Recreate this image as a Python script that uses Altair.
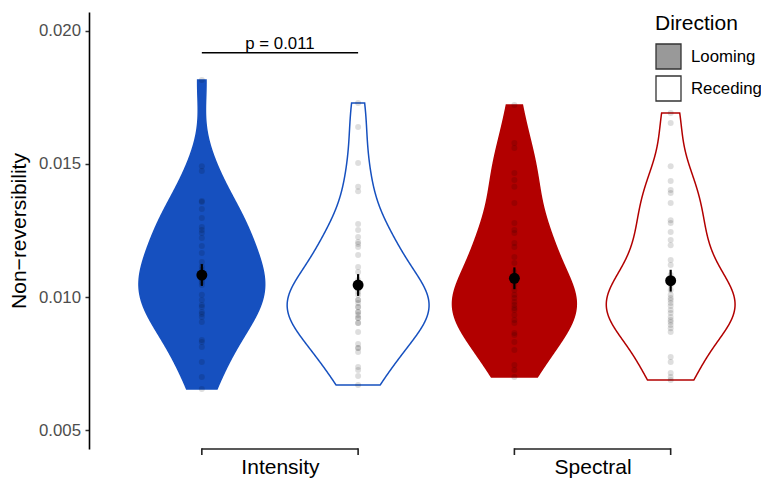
import json
import altair as alt
import pandas as pd

# ---- data ----
types = ["Intensity", "Spectral"]
directions = ["Looming", "Receding"]

intensity_looming = [0.01816, 0.01492, 0.01474, 0.01361, 0.01357, 0.01331, 0.01297, 0.01263,
                     0.01252, 0.01241, 0.01222, 0.01192, 0.01165, 0.01132, 0.01115, 0.01102,
                     0.01083, 0.01075, 0.01064, 0.01055, 0.01045, 0.01008, 0.00989, 0.00970,
                     0.00962, 0.00944, 0.00936, 0.00925, 0.00906, 0.00838, 0.00831, 0.00812,
                     0.00756, 0.00699, 0.00654]
intensity_receding = [0.01729, 0.01639, 0.01504, 0.01414, 0.01398, 0.01274, 0.01252, 0.01226,
                      0.01207, 0.01199, 0.01188, 0.01158, 0.01113, 0.01094, 0.01064, 0.01053,
                      0.01040, 0.01030, 0.01020, 0.01008, 0.00989, 0.00989, 0.00977, 0.00962,
                      0.00962, 0.00944, 0.00944, 0.00932, 0.00921, 0.00921, 0.00902, 0.00902,
                      0.00868, 0.00823, 0.00808, 0.00808, 0.00793, 0.00737, 0.00726, 0.00703,
                      0.00669]
spectral_looming = [0.01722, 0.01579, 0.01560, 0.01466, 0.01440, 0.01414, 0.01353, 0.01278,
                    0.01252, 0.01241, 0.01203, 0.01188, 0.01150, 0.01128, 0.01094, 0.01064,
                    0.01045, 0.01026, 0.01008, 0.00996, 0.00981, 0.00970, 0.00959, 0.00951,
                    0.00932, 0.00914, 0.00902, 0.00865, 0.00857, 0.00831, 0.00801, 0.00744,
                    0.00726, 0.00699]
spectral_receding = [0.01692, 0.01654, 0.01492, 0.01436, 0.01402, 0.01391, 0.01353, 0.01289,
                     0.01278, 0.01244, 0.01214, 0.01195, 0.01139, 0.01120, 0.01083, 0.01064,
                     0.01045, 0.01026, 0.01008, 0.00996, 0.00989, 0.00977, 0.00966, 0.00951,
                     0.00940, 0.00925, 0.00914, 0.00906, 0.00895, 0.00883, 0.00868, 0.00774,
                     0.00756, 0.00714, 0.00699, 0.00688]

# group means and standard errors as drawn (Intensity L, Intensity R, Spectral L, Spectral R)
mean_values = [0.010827, 0.010451, 0.010703, 0.010613]
se_values = [0.00041, 0.00041, 0.00041, 0.00041]

y_ticks = [0.005, 0.010, 0.015, 0.020]
y_domain = [0.004286, 0.020714]
x_domain = [0.389, 2.539]

p_type = "Intensity"
p_label = "p = 0.011"
p_y = 0.01918

y_title = "Non\u2212reversibility"
legend_title = "Direction"

# ---- styles ----
BLUE = "#1650BF"
RED = "#B20000"
fill_colors = [BLUE, "#FFFFFF", RED, "#FFFFFF"]
stroke_colors = [BLUE, BLUE, RED, RED]
legend_fill = ["#999999", "#FFFFFF"]
FONT = "Liberation Sans"
W, H = 672, 437
dodge = 0.25
half_width = 0.227
bandwidth = 0.0011

series = {
    ("Intensity", "Looming"): intensity_looming,
    ("Intensity", "Receding"): intensity_receding,
    ("Spectral", "Looming"): spectral_looming,
    ("Spectral", "Receding"): spectral_receding,
}


def xpos(t, d):
    return types.index(t) + 1 + (-dodge if d == "Looming" else dodge)


rows = []
for (t, d), vals in series.items():
    for v in vals:
        rows.append({"grp": f"{t} {d}", "xc": xpos(t, d), "value": v})
df = pd.DataFrame(rows)
groups = [f"{t} {d}" for t in types for d in directions]

sdf = pd.DataFrame({
    "grp": groups,
    "xc": [xpos(t, d) for t in types for d in directions],
    "m": mean_values,
    "se": se_values,
})

xs = alt.Scale(domain=x_domain, nice=False, zero=False)
ys = alt.Scale(domain=y_domain, nice=False, zero=False)

x_axis = alt.Axis(values=[1, 2], labelExpr=f"{json.dumps(types)}[datum.value - 1]",
                  ticks=False, domain=False, grid=False, labelFontSize=21,
                  labelColor="black", labelPadding=24, labelBaseline="alphabetic",
                  labelFont=FONT)
y_axis = alt.Axis(values=y_ticks, format=".3f", tickSize=4, tickWidth=1.5,
                  tickColor="#333333", domainColor="black", domainWidth=1.6,
                  grid=False, labelFontSize=16.8, labelColor="#4D4D4D",
                  labelPadding=4.5, labelFont=FONT, titleFont=FONT,
                  titleFontSize=21, titleFontWeight="normal", titleColor="black",
                  titleX=-64, titleBaseline="alphabetic")


def X(f):
    return alt.X(f, scale=xs, axis=x_axis, title=None)


def Y(f):
    return alt.Y(f, scale=ys, axis=y_axis, title=y_title)


# violins: KDE per group, trimmed to each group's own range (ggplot trim=TRUE),
# widths scaled by one common factor (scale = "area")
violin = alt.Chart(df).transform_joinaggregate(
    gmin="min(value)", gmax="max(value)", groupby=["grp"]
).transform_density(
    "value", groupby=["grp", "xc", "gmin", "gmax"], bandwidth=bandwidth,
    steps=800, as_=["value", "density"]
).transform_filter(
    "datum.value >= datum.gmin - 0.00001 && datum.value <= datum.gmax + 0.00001"
).transform_calculate(
    value="max(datum.gmin, min(datum.gmax, datum.value))"
).transform_joinaggregate(
    maxd="max(density)"
).transform_calculate(
    lo=f"datum.xc - datum.density / datum.maxd * {half_width}",
    hi=f"datum.xc + datum.density / datum.maxd * {half_width}",
).mark_area(orient="horizontal", strokeWidth=1.5).encode(
    y=Y("value:Q"),
    x=X("lo:Q"),
    x2="hi:Q",
    fill=alt.Fill("grp:N", scale=alt.Scale(domain=groups, range=fill_colors), legend=None),
    stroke=alt.Stroke("grp:N", scale=alt.Scale(domain=groups, range=stroke_colors), legend=None),
    detail="grp:N",
)

points = alt.Chart(df).mark_circle(size=36, color="black", opacity=0.13).encode(
    x=X("xc:Q"), y=Y("value:Q")
)

stats = alt.Chart(sdf).transform_calculate(
    lo="datum.m - datum.se", hi="datum.m + datum.se"
)
bars = stats.mark_rule(color="black", strokeWidth=2.2).encode(
    x=X("xc:Q"), y=Y("lo:Q"), y2="hi:Q"
)
dots = stats.mark_circle(color="black", size=120, opacity=1).encode(
    x=X("xc:Q"), y=Y("m:Q")
)

pi = types.index(p_type) + 1
pdf = pd.DataFrame({"label": [p_label], "y": [p_y], "x1": [pi - dodge],
                    "x2": [pi + dodge], "xm": [pi]})
pline = alt.Chart(pdf).mark_rule(color="black", strokeWidth=1.6).encode(
    x=X("x1:Q"), x2="x2:Q", y=Y("y:Q")
)
ptext = alt.Chart(pdf).mark_text(font=FONT, fontSize=16.8, dy=-4,
                                 baseline="alphabetic", color="black").encode(
    x=X("xm:Q"), y=Y("y:Q"), text="label:N"
)

bdf = pd.DataFrame({"Type": types})
bdf["x1"] = [types.index(t) + 1 - dodge for t in types]
bdf["x2"] = [types.index(t) + 1 + dodge for t in types]
brack = alt.Chart(bdf).mark_rule(color="#222222", strokeWidth=1.6).encode(
    x=X("x1:Q"), x2="x2:Q", y=alt.value(H)
)
brack_ends = alt.Chart(bdf).transform_fold(["x1", "x2"], as_=["end", "xe"]).mark_rule(
    color="#222222", strokeWidth=1.6
).encode(x=X("xe:Q"), y=alt.value(H - 0.8), y2=alt.value(H + 6))

leg = alt.Chart(pd.DataFrame({"Direction": directions})).mark_square(opacity=0).encode(
    fill=alt.Fill(
        "Direction:N",
        scale=alt.Scale(domain=directions, range=legend_fill),
        legend=alt.Legend(
            title=legend_title, orient="none", legendX=566, legendY=1,
            titleFont=FONT, titleFontSize=21, titleFontWeight="normal",
            titleColor="black", titlePadding=9, labelFont=FONT,
            labelFontSize=16.8, labelColor="black", symbolType="square",
            symbolSize=625, symbolStrokeColor="#333333", symbolStrokeWidth=1.3,
            symbolOpacity=1, rowPadding=1, labelOffset=9, padding=0,
        ),
    )
)

chart = alt.layer(
    violin, points, bars, dots, pline, ptext, brack, brack_ends, leg
).resolve_scale(
    fill="independent", stroke="independent"
).properties(
    width=W, height=H,
    autosize=alt.AutoSizeParams(type="none"),
    padding={"left": 81, "top": 4, "right": 0, "bottom": 29},
    background="white",
).configure_view(stroke=None)

chart.save("out.html", embed_options={"renderer": "svg", "actions": False})
